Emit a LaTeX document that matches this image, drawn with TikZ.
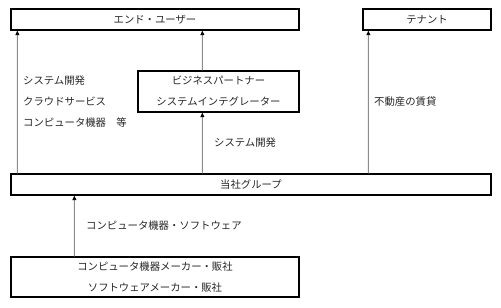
\documentclass[tikz,border=0pt]{standalone}
\usepackage{fontspec}
\newfontfamily\jp{Noto Sans CJK JP}
\usetikzlibrary{arrows.meta}
\begin{document}
\begin{tikzpicture}[x=1bp,y=-1bp,
  box/.style={draw=black,line width=1.3bp,inner sep=0pt,anchor=center,font=\jp\fontsize{10.4}{21}\selectfont,align=center,text=black!85},
  lbl/.style={inner sep=0pt,font=\jp\fontsize{10.4}{21}\selectfont,align=left,text=black!85},
  arr/.style={draw=black!45,line width=0.9bp,-{Triangle[black,length=4.5bp,width=4bp]}}]
\useasboundingbox (0,0) rectangle (501,307);
\node[box,minimum width=288bp,minimum height=21bp] (eu) at (155,19.5) {エンド・ユーザー};
\node[box,minimum width=128bp,minimum height=21bp] (tn) at (427,19.5) {テナント};
\node[box,minimum width=161bp,minimum height=41bp] (bp) at (218.5,91.5) {ビジネスパートナー\\システムインテグレーター};
\node[box,minimum width=480bp,minimum height=21bp] (gr) at (251,184.5) {当社グループ};
\node[box,minimum width=288bp,minimum height=40bp] (sp) at (155,277) {コンピュータ機器メーカー・販社\\ソフトウェアメーカー・販社};
\draw[arr] ([xshift=7bp]gr.north west) -- ([xshift=7bp]eu.south west);
\draw[arr] ([xshift=192bp]gr.north west) -- ([xshift=65bp]bp.south west);
\draw[arr] ([xshift=65bp]bp.north west) -- ([xshift=192bp]eu.south west);
\draw[arr] ([xshift=358bp]gr.north west) -- ([xshift=6bp]tn.south west);
\draw[arr] ([xshift=64bp]sp.north west) -- ([xshift=64bp]gr.south west);
\node[lbl,anchor=west] (l1) at (23,81) {システム開発};
\node[lbl,anchor=west] (l2) at (23,101.5) {クラウドサービス};
\node[lbl,anchor=west] (l3) at (23,123) {コンピュータ機器　等};
\node[lbl,anchor=west] (l4) at (214,143) {システム開発};
\node[lbl,anchor=west] (l5) at (374,101.5) {不動産の賃貸};
\node[lbl,anchor=west] (l6) at (86,226) {コンピュータ機器・ソフトウェア};
\end{tikzpicture}
\end{document}
